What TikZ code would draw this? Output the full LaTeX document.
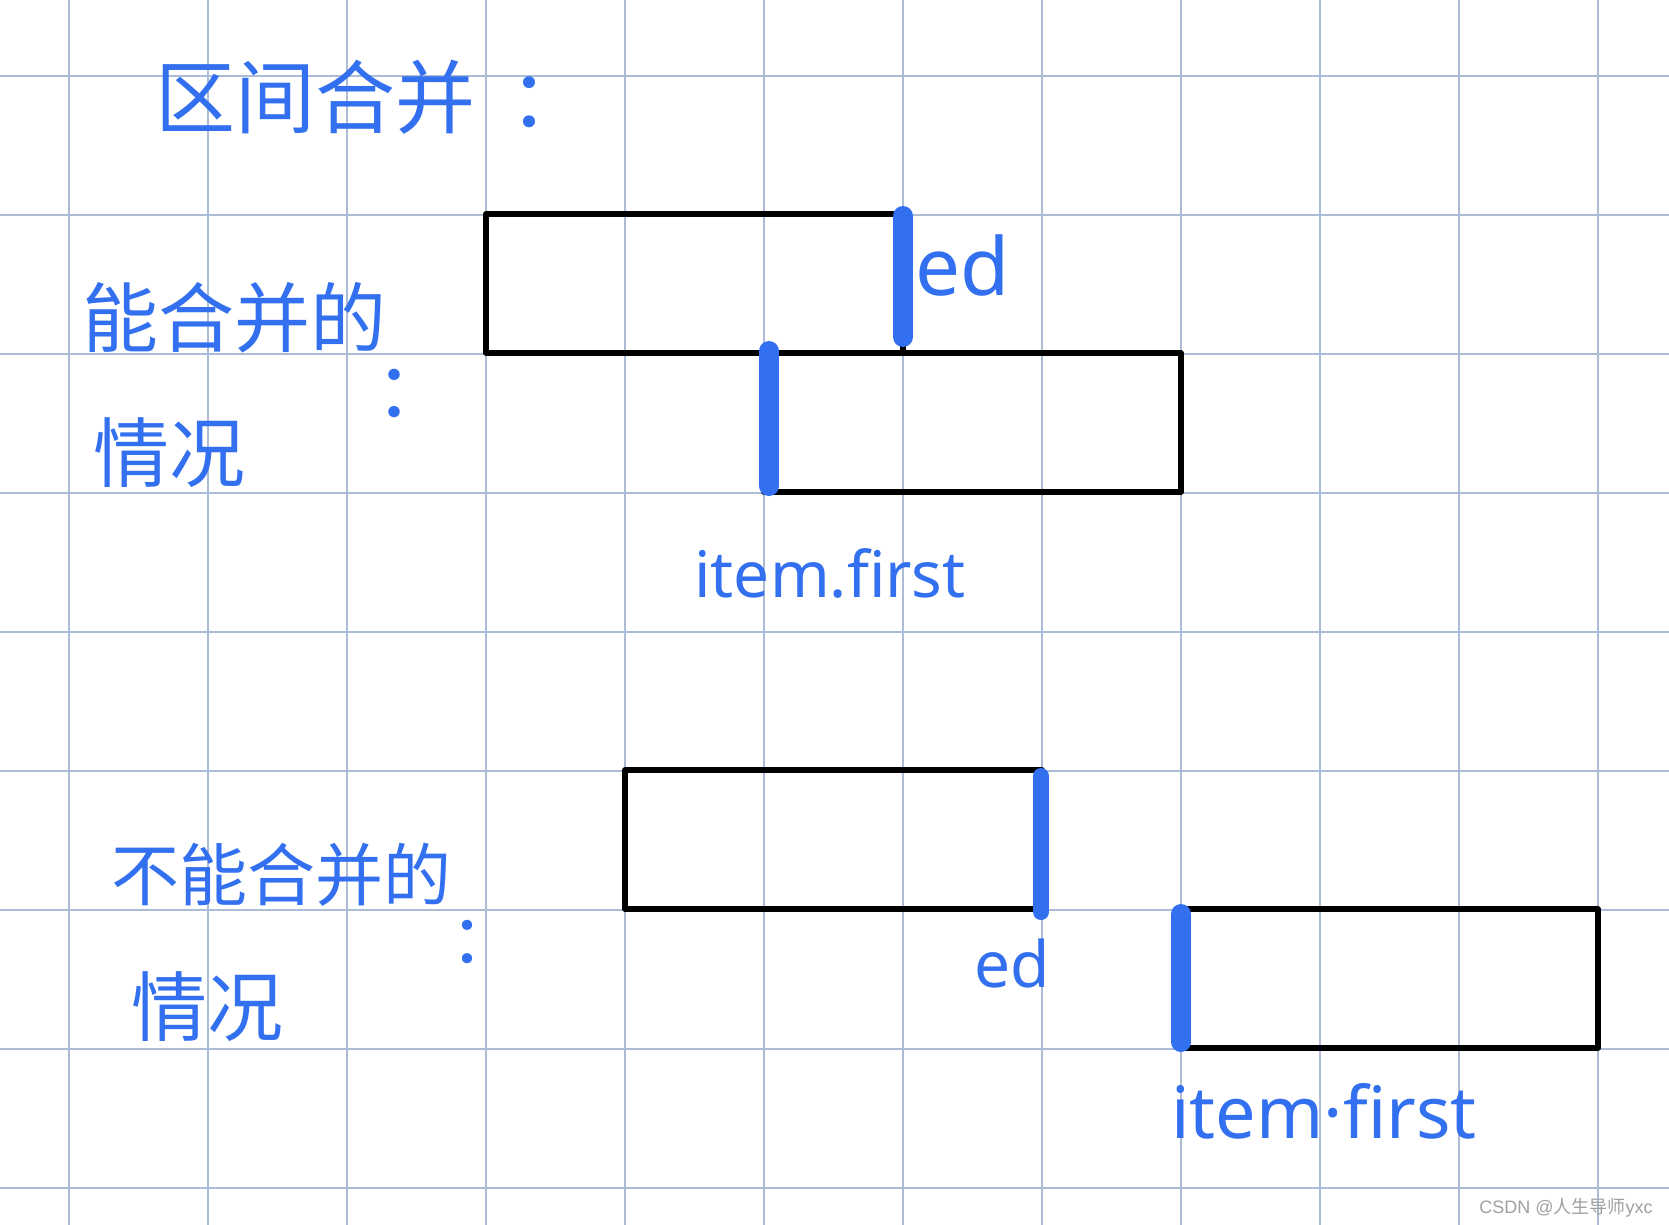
\documentclass[tikz,border=0pt]{standalone}
\usepackage{fontspec}
\setmainfont{Liberation Sans}
\newfontfamily\cjk{Noto Sans CJK SC}
\newfontfamily\hand{Noto Sans}
\usetikzlibrary{calc}
\definecolor{gridc}{RGB}{172,187,214}
\definecolor{inkblue}{RGB}{51,112,240}
\definecolor{wmgray}{RGB}{160,160,160}
\begin{document}
\begin{tikzpicture}[x=0.5pt,y=-0.5pt,
  gridline/.style={draw=gridc,line width=1pt},
  interval/.style={rectangle,draw=black,line width=2.6pt,line join=round,inner sep=0pt,outer sep=0pt,minimum width=208.5pt,minimum height=69.5pt},
  marker/.style={draw=inkblue,line width=#1,line cap=round},
  cjktext/.style={text=inkblue,font=\cjk\fontsize{#1}{#1}\selectfont,inner sep=0pt},
  latin/.style={text=inkblue,font=\hand\fontsize{#1}{#1}\selectfont,inner sep=0pt},
  wm/.style={text=wmgray,font=\fontsize{9}{9}\selectfont,inner sep=0pt}
]
\useasboundingbox[fill=white] (0,0) rectangle (1669,1225);
% grid
\foreach \i in {0,...,11} \draw[gridline] (69.2+139*\i,0) -- (69.2+139*\i,1225);
\foreach \j in {0,...,8} \draw[gridline] (0,76+139*\j) -- (1669,76+139*\j);
% intervals
\node[interval] (b1) at (694.5,283.5) {};
\node[interval] (b2) at (972.5,422.5) {};
\node[interval] (b3) at (833.5,839.5) {};
\node[interval] (b4) at (1389.5,978.5) {};
% endpoint marks
\draw[marker=10pt] ($(b1.north east)+(0,2)$) -- ($(b1.south east)+(0,-16)$);
\draw[marker=10pt] ($(b2.north west)+(5,-2)$) -- ($(b2.south west)+(5,-6)$);
\draw[marker=8pt] ($(b3.north east)+(-1,6)$) -- ($(b3.south east)+(-1,3)$);
\draw[marker=10pt] ($(b4.north west)+(0,5)$) -- ($(b4.south west)+(0,-6)$);
% texts
\node[cjktext=40pt,anchor=west] (title) at (155,97) {区间合并\hspace{17pt}：};
\node[cjktext=38pt,anchor=west] (can) at (82,318) {能合并的};
\node[cjktext=38pt] (canc) at (413,393) {：};
\node[cjktext=38pt,anchor=west] (canb) at (93,453) {情况};
\node[cjktext=34pt,anchor=west] (cannot) at (111,875) {不能合并的};
\node[cjktext=34pt] (cannotc) at (484,942) {：};
\node[cjktext=38pt,anchor=west] (cannotb) at (131,1007) {情况};
\node[latin=40pt,anchor=base] (ed1) at (963,295) {ed};
\node[latin=32pt,anchor=base] (if1) at (830,597) {item.first};
\node[latin=32pt,anchor=base] (ed2) at (1012,987) {ed};
\node[latin=36pt,anchor=base] (if2) at (1324,1138) {item·first};
\node[wm,anchor=base east] (wm) at (1653,1213) {CSDN @{\cjk 人生导师}yxc};
\end{tikzpicture}
\end{document}
